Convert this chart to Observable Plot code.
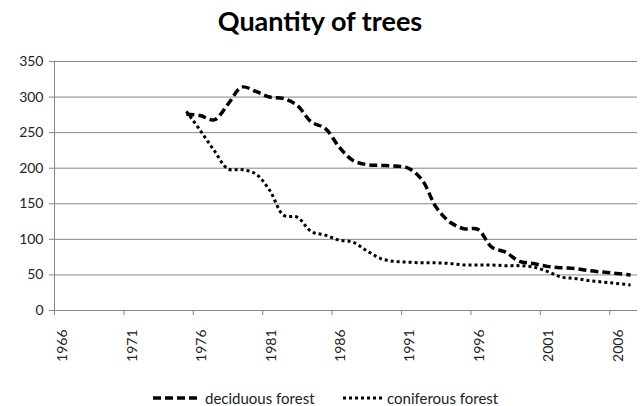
<!DOCTYPE html>
<html><head><meta charset="utf-8">
<script src="https://cdn.jsdelivr.net/npm/d3@7"></script>
<script src="https://cdn.jsdelivr.net/npm/@observablehq/plot@0.6"></script>
<style>
body{margin:0;background:#fff;font-family:Lato,"Open Sans",sans-serif;}
#wrap{position:relative;width:640px;height:406px;overflow:hidden;background:#fff;}
#title{position:absolute;left:0;top:0;width:640px;height:44px;line-height:42px;text-align:center;font-weight:bold;font-size:27px;color:#000;}
#chart{position:absolute;left:0;top:44px;}
.leg{position:absolute;top:388px;height:20px;line-height:20px;font-size:15px;color:#222;display:flex;align-items:center;white-space:nowrap;}
.leg svg{margin-right:5px;}
</style></head><body>
<div id="wrap">
<div id="title">Quantity of trees</div>
<div id="chart"></div>
<div class="leg" id="leg0" style="left:153px"></div>
<div class="leg" id="leg1" style="left:343px"></div>
</div>
<script>
const years = [1975,1976,1977,1978,1979,1980,1981,1982,1983,1984,1985,1986,1987,1988,1989,1990,1991,1992,1993,1994,1995,1996,1997,1998,1999,2000,2001,2002,2003,2004,2005,2006,2007];
const deciduous = [276,274,268,290,314,308,300,298,288,265,256,230,211,205,204,203,200,183,145,124,115,114,89,82,69,66,62,60,59,56,54,52,50];
const coniferous = [280,253,225,199,198,192,169,134,131,111,106,99,96,84,73,69,68,67,67,66,64,64,64,63,63,61,55,47,45,42,40,38,36];
const seriesNames = ["deciduous forest","coniferous forest"];
const yearTicks = [1966,1971,1976,1981,1986,1991,1996,2001,2006];
const yTicks = [0,50,100,150,200,250,300,350];
const xDomain = [1965.5, 2007.5];

const styles = [
  {stroke:"#000", strokeWidth:3.5, strokeDasharray:"8,4"},
  {stroke:"#000", strokeWidth:3, strokeDasharray:"3,3"}
];
const rows = [];
years.forEach((y,i)=>{
  rows.push({year:y, value:deciduous[i], series:seriesNames[0]});
  rows.push({year:y, value:coniferous[i], series:seriesNames[1]});
});
const grid = "#868686";
const chart = Plot.plot({
  width:640, height:326,
  marginTop:17, marginBottom:60, marginLeft:54, marginRight:3,
  style:{fontFamily:"Lato, 'Open Sans', sans-serif", fontSize:"14px", color:"#222", background:"white"},
  x:{domain:xDomain, axis:null},
  y:{domain:[0,350], axis:null},
  marks:[
    Plot.gridY(yTicks, {stroke:grid, strokeOpacity:1}),
    Plot.axisY(yTicks, {tickSize:5, tickPadding:6, stroke:grid, strokeOpacity:1, fontSize:14, tickFormat:"d", label:null}),
    Plot.ruleX([xDomain[0]], {stroke:grid}),
    Plot.axisX(yearTicks.map(y=>y-0.5), {tickSize:5, tickFormat:()=>"", stroke:grid, strokeOpacity:1, label:null}),
    Plot.axisX(yearTicks, {tickSize:0, tickPadding:19, tickRotate:-90, tickFormat:"d", fontSize:14, dx:1.5, label:null}),
    ...seriesNames.map((s,i)=>Plot.line(rows.filter(r=>r.series===s), {x:"year", y:"value", curve:"catmull-rom", strokeLinecap:"butt", ...styles[i]}))
  ]
});
document.getElementById("chart").appendChild(chart);

seriesNames.forEach((s,i)=>{
  const el = document.getElementById("leg"+i);
  const w = i===0 ? 47 : 39;
  const st = styles[i];
  el.innerHTML = `<svg width="${w}" height="10"><line x1="0" x2="${w}" y1="5" y2="5" stroke="${st.stroke}" stroke-width="${st.strokeWidth}" stroke-dasharray="${st.strokeDasharray}"/></svg><span>${s}</span>`;
});
</script>
</body></html>
